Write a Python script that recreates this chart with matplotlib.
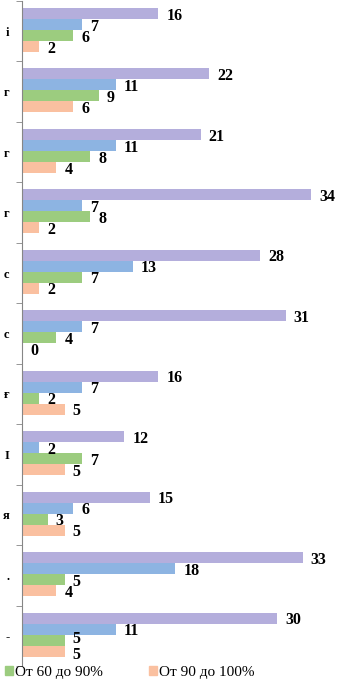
import matplotlib.pyplot as plt
import numpy as np
from matplotlib.patches import Patch

# группы сверху вниз (подписи обрезаны слева на исходном рисунке)
groups = ['і', 'г', 'г', 'г', 'с', 'с', 'ғ', 'I', 'я', '.', '-']
s_purple = [16, 22, 21, 34, 28, 31, 16, 12, 15, 33, 30]
s_blue = [7, 11, 11, 7, 13, 7, 7, 2, 6, 18, 11]
s_green = [6, 9, 8, 8, 7, 4, 2, 7, 3, 5, 5]
s_orange = [2, 6, 4, 2, 2, 0, 5, 5, 5, 4, 5]
legend_labels = ['От 60 до 90%', 'От 90 до 100%']

colors = ['#b4aedc', '#8db4e2', '#9ccc7f', '#fac0a0']
series = [s_purple, s_blue, s_green, s_orange]

plt.rcParams['font.family'] = ['Liberation Serif', 'DejaVu Serif']

W, H = 338, 683
fig = plt.figure(figsize=(W / 100, H / 100), dpi=100)
ax = fig.add_axes([22 / W, (H - 666) / H, (W - 22) / W, 665 / H])

n = len(groups)
ypos = np.arange(n)[::-1]
bh = 0.182
for k, (vals, c) in enumerate(zip(series, colors)):
    y = ypos + (1.5 - k) * bh + 0.02
    ax.barh(y, vals, height=bh, color=c, edgecolor='none')
    for i, (yy, v) in enumerate(zip(y, vals)):
        dy = -1.5
        # в последней группе подписи 5 и 5 стоят вплотную
        if i == n - 1 and k == 2:
            dy = 0.5
        if i == n - 1 and k == 3:
            dy = -2.5
        ax.annotate(str(v), (v, yy), xytext=(6, dy), textcoords='offset points',
                    ha='left', va='center', fontsize=11.5, fontweight='bold', color='black')

ax.set_xlim(0, (W - 22) / 8.5)
ax.set_ylim(-0.5, n - 0.5)
ax.set_yticks(ypos)
ax.set_yticklabels(groups, fontsize=9, fontweight='bold')
ax.set_yticks(np.arange(n + 1) - 0.5, minor=True)
ax.tick_params(axis='y', which='major', length=0, pad=9)
ax.tick_params(axis='y', which='minor', length=4, direction='out', color='#868686')
ax.set_xticks([])
for s in ['top', 'right', 'bottom']:
    ax.spines[s].set_visible(False)
ax.spines['left'].set_color('#868686')

handles = [Patch(color=colors[2]), Patch(color=colors[3])]
fig.legend(handles, legend_labels, loc='lower left', bbox_to_anchor=(-0.025, -0.014), ncol=2,
           frameon=False, fontsize=11, handlelength=0.5, handleheight=0.5,
           handletextpad=0.15, columnspacing=3.0)

fig.savefig('out.png', dpi=100)
